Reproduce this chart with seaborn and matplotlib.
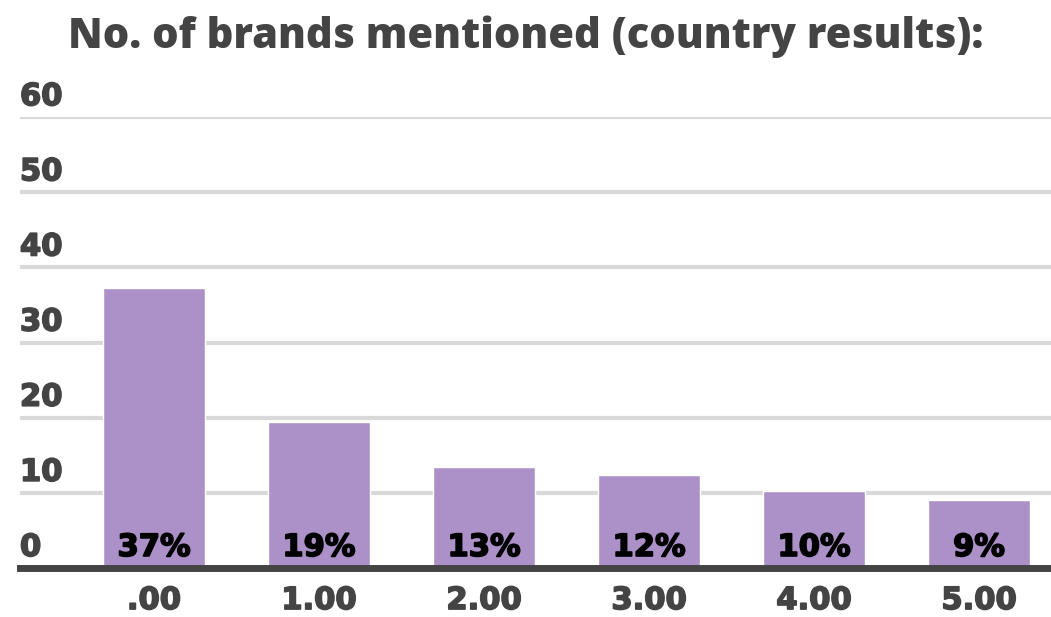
import matplotlib
matplotlib.use("Agg")
import matplotlib.pyplot as plt
import matplotlib.patheffects as pe
import seaborn as sns
import pandas as pd

# Share of brands mentioned, per number of brands
categories = [".00", "1.00", "2.00", "3.00", "4.00", "5.00"]
shares = [37.3, 19.4, 13.4, 12.4, 10.2, 9.1]
y_ticks = [0, 10, 20, 30, 40, 50, 60]
title = "No. of brands mentioned (country results):"

bar_color = "#ac91c8"
text_gray = "#444444"
grid_gray = "#d9d9d9"
num_font = ["DejaVu Sans"]


def heavy(color):
    # thicken the bold glyphs a little
    return [pe.withStroke(linewidth=1.2, foreground=color)]


sns.set_theme(style="white")
plt.rcParams["font.family"] = ["Open Sans", "DejaVu Sans"]

df = pd.DataFrame({"brands": categories, "share": shares})

fig = plt.figure(figsize=(10.51, 6.17), dpi=100)
ax = fig.add_axes([0.019, 0.0794, 0.981, 0.7306])

sns.barplot(data=df, x="brands", y="share", color=bar_color, width=0.62,
            saturation=1, ax=ax, zorder=3)

ax.set_xlim(-0.812, 5.436)
ax.set_ylim(0, 60)
ax.set_yticks(y_ticks)
ax.set_yticklabels([])
ax.tick_params(axis="y", length=0)
ax.grid(axis="y", color=grid_gray, linewidth=3, zorder=0)
ax.grid(axis="x", visible=False)
for side in ["top", "right", "left"]:
    ax.spines[side].set_visible(False)
ax.spines["bottom"].set_color(text_gray)
ax.spines["bottom"].set_linewidth(5)
ax.spines["bottom"].set_zorder(4)
ax.set_xlabel("")
ax.set_ylabel("")

# Y values written above their gridlines
for t in y_ticks:
    ax.annotate(str(t), xy=(0, t), xycoords=("axes fraction", "data"),
                xytext=(0, 12), textcoords="offset pixels",
                ha="left", va="baseline", fontsize=22, fontweight="bold",
                family=num_font, color=text_gray,
                path_effects=heavy(text_gray))

ax.tick_params(axis="x", length=0, pad=13)
for lbl in ax.get_xticklabels():
    lbl.set_fontsize(22)
    lbl.set_fontweight("bold")
    lbl.set_family(num_font)
    lbl.set_color(text_gray)
    lbl.set_path_effects(heavy(text_gray))

# Percentage labels at the foot of each bar
for i, v in enumerate(shares):
    ax.text(i, 1.6, f"{v:.0f}%", ha="center", va="baseline",
            fontsize=22, fontweight="bold", family=num_font,
            color="black", zorder=5, path_effects=heavy("black"))

fig.text(0.5, 0.975, title, ha="center", va="top", fontsize=30,
         fontweight="heavy", color=text_gray)

fig.savefig("out.png", dpi=100)
